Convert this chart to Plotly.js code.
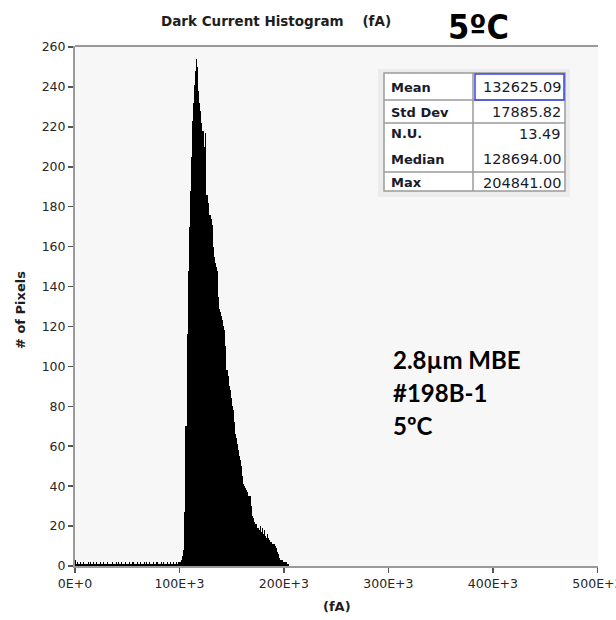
<!DOCTYPE html>
<html>
<head>
<meta charset="utf-8">
<script src="https://cdn.plot.ly/plotly-3.0.1.min.js"></script>
<style>html,body{margin:0;padding:0;background:#fff;}#chart{width:616px;height:620px;}</style>
</head>
<body>
<div id="chart"></div>
<script>
// ---- data ----
const binWidth = 1000; // fA per bin
const binStart = 0;
// counts for bins 0E3 .. 99E3 (low-level noise floor)
const noiseCounts = [3,1,2,1,1,2,1,1,2,1, 1,1,2,1,2,1,1,2,1,1, 2,1,1,1,2,1,1,2,1,1, 1,2,1,1,1,2,1,1,1,2,
                     1,2,1,1,2,1,1,1,2,1, 1,1,2,1,1,2,1,1,1,2, 1,1,2,1,1,1,2,1,2,1, 1,2,1,1,1,2,1,1,2,1,
                     1,1,2,1,2,1,1,1,2,1, 1,2,1,1,2,1,1,2,1,2];
// counts for bins 100E3 .. 204E3 (main distribution)
const peakCounts = [2,3,5,8,27,70,70,116,148,170,
                    188,205,223,232,241,248,254,250,238,232,
                    228,222,218,210,217,186,186,182,176,176,
                    174,171,160,155,152,150,148,135,129,127,
                    125,123,120,118,110,98,95,90,88,84,
                    80,78,72,66,64,61,58,55,53,50,
                    45,41,40,39,38,37,35,35,30,25,
                    24,22,21,21,19,19,18,20,17,19,
                    16,18,15,14,16,14,13,12,12,11,
                    11,10,9,7,6,4,3,3,3,2,
                    2,2,2,1,1];
const xTickVals = [0,100000,200000,300000,400000,500000];
const xTickText = ['0E+0','100E+3','200E+3','300E+3','400E+3','500E+3'];
const yTickVals = [0,20,40,60,80,100,120,140,160,180,200,220,240,260];
const statLabels = ['Mean','Std Dev','N.U.','Median','Max'];
const statValues = ['132625.09','17885.82','13.49','128694.00','204841.00'];
const sampleLines = ['2.8µm MBE','#198B-1','5ºC'];
const chartTitle = 'Dark Current Histogram&nbsp;&nbsp;&nbsp;&nbsp;(fA)';
const tempLabel = '5ºC';

// ---- build ----
const counts = noiseCounts.concat(peakCounts);
const xs = counts.map((c,i)=> binStart + (i+0.5)*binWidth);

// plot area geometry (pixels)
const L=75, R=598, T=46, B=566;
const px = x => (x-L)/(R-L);
const py = y => (B-y)/(B-T);

const uiFont = 'DejaVu Sans, Verdana, sans-serif';
const armFont = 'Liberation Sans, Arial, sans-serif';

const annotations = [];
annotations.push({xref:'paper',yref:'paper',x:px(276),y:py(21),text:'<b>'+chartTitle+'</b>',showarrow:false,
  xanchor:'center',yanchor:'middle',font:{family:uiFont,size:13.5,color:'#1e1e1e'}});
annotations.push({xref:'paper',yref:'paper',x:px(478),y:py(27),text:'<b>'+tempLabel+'</b>',showarrow:false,
  xanchor:'center',yanchor:'middle',font:{family:'Liberation Sans Narrow, DejaVu Sans Condensed, Liberation Sans, sans-serif',size:34,color:'#000'}});
const rowY = [87,112,134,159,183];
statLabels.forEach((s,i)=>{
  annotations.push({xref:'paper',yref:'paper',x:px(389),y:py(rowY[i]),text:'<b>'+s+'</b>',showarrow:false,
    xanchor:'left',yanchor:'middle',font:{family:uiFont,size:13,color:'#1a1a2a'}});
  annotations.push({xref:'paper',yref:'paper',x:px(563),y:py(rowY[i]),text:statValues[i],showarrow:false,
    xanchor:'right',yanchor:'middle',font:{family:uiFont,size:14.5,color:'#1a1a2a'}});
});
const sampleY = [359,392,425];
sampleLines.forEach((s,i)=>{
  annotations.push({xref:'paper',yref:'paper',x:px(391),y:py(sampleY[i]),text:'<b>'+s+'</b>',showarrow:false,
    xanchor:'left',yanchor:'middle',font:{family:'Lato, Open Sans, sans-serif',size:24,color:'#000'}});
});
annotations.push({xref:'paper',yref:'paper',x:px(20),y:py(310),text:'<b># of Pixels</b>',showarrow:false,textangle:-90,
  xanchor:'center',yanchor:'middle',font:{family:uiFont,size:13,color:'#1e1e1e'}});
annotations.push({xref:'paper',yref:'paper',x:px(337),y:py(606),text:'<b>(fA)</b>',showarrow:false,
  xanchor:'center',yanchor:'middle',font:{family:uiFont,size:13,color:'#1e1e1e'}});

const gray='#9a9a9a';
const shapes = [
  // top border of plot
  {type:'line',xref:'paper',yref:'paper',x0:0,x1:1,y0:1,y1:1,line:{color:gray,width:2}},
  // stats panel
  {type:'rect',xref:'paper',yref:'paper',x0:px(378),x1:px(570),y0:py(69),y1:py(197),fillcolor:'#ececec',line:{width:0},layer:'above'},
  {type:'rect',xref:'paper',yref:'paper',x0:px(384),x1:px(565),y0:py(73),y1:py(191),fillcolor:'#ffffff',line:{color:gray,width:1.5},layer:'above'},
  {type:'line',xref:'paper',yref:'paper',x0:px(473),x1:px(473),y0:py(73),y1:py(191),line:{color:gray,width:1.5},layer:'above'},
  {type:'line',xref:'paper',yref:'paper',x0:px(384),x1:px(565),y0:py(100),y1:py(100),line:{color:gray,width:1.5},layer:'above'},
  {type:'line',xref:'paper',yref:'paper',x0:px(384),x1:px(565),y0:py(123),y1:py(123),line:{color:gray,width:1.5},layer:'above'},
  {type:'line',xref:'paper',yref:'paper',x0:px(384),x1:px(565),y0:py(172),y1:py(172),line:{color:gray,width:1.5},layer:'above'},
  {type:'rect',xref:'paper',yref:'paper',x0:px(475),x1:px(564),y0:py(74),y1:py(100),fillcolor:'rgba(0,0,0,0)',line:{color:'#3a46e0',width:1.5},layer:'above'}
];

const trace = {type:'bar',x:xs,y:counts,width:binWidth,marker:{color:'#000',line:{width:0}},hoverinfo:'skip'};

const axisCommon = {showgrid:false,zeroline:false,showline:true,linecolor:gray,linewidth:2,
  ticks:'outside',ticklen:5,tickwidth:1.5,tickcolor:'#555',ticklabeloverflow:'allow',
  tickfont:{family:uiFont,size:12.5,color:'#262626'}};

const layout = {
  width:616,height:620,
  margin:{l:L,r:616-R,t:T,b:620-B},
  paper_bgcolor:'#ffffff',plot_bgcolor:'#f7f7f7',
  showlegend:false,bargap:0,
  xaxis:Object.assign({},axisCommon,{range:[0,500600],tickvals:xTickVals,ticktext:xTickText}),
  yaxis:Object.assign({},axisCommon,{range:[0,260.5],tickvals:yTickVals}),
  annotations:annotations,shapes:shapes
};
Plotly.newPlot('chart',[trace],layout,{staticPlot:true,displayModeBar:false});
</script>
</body>
</html>
